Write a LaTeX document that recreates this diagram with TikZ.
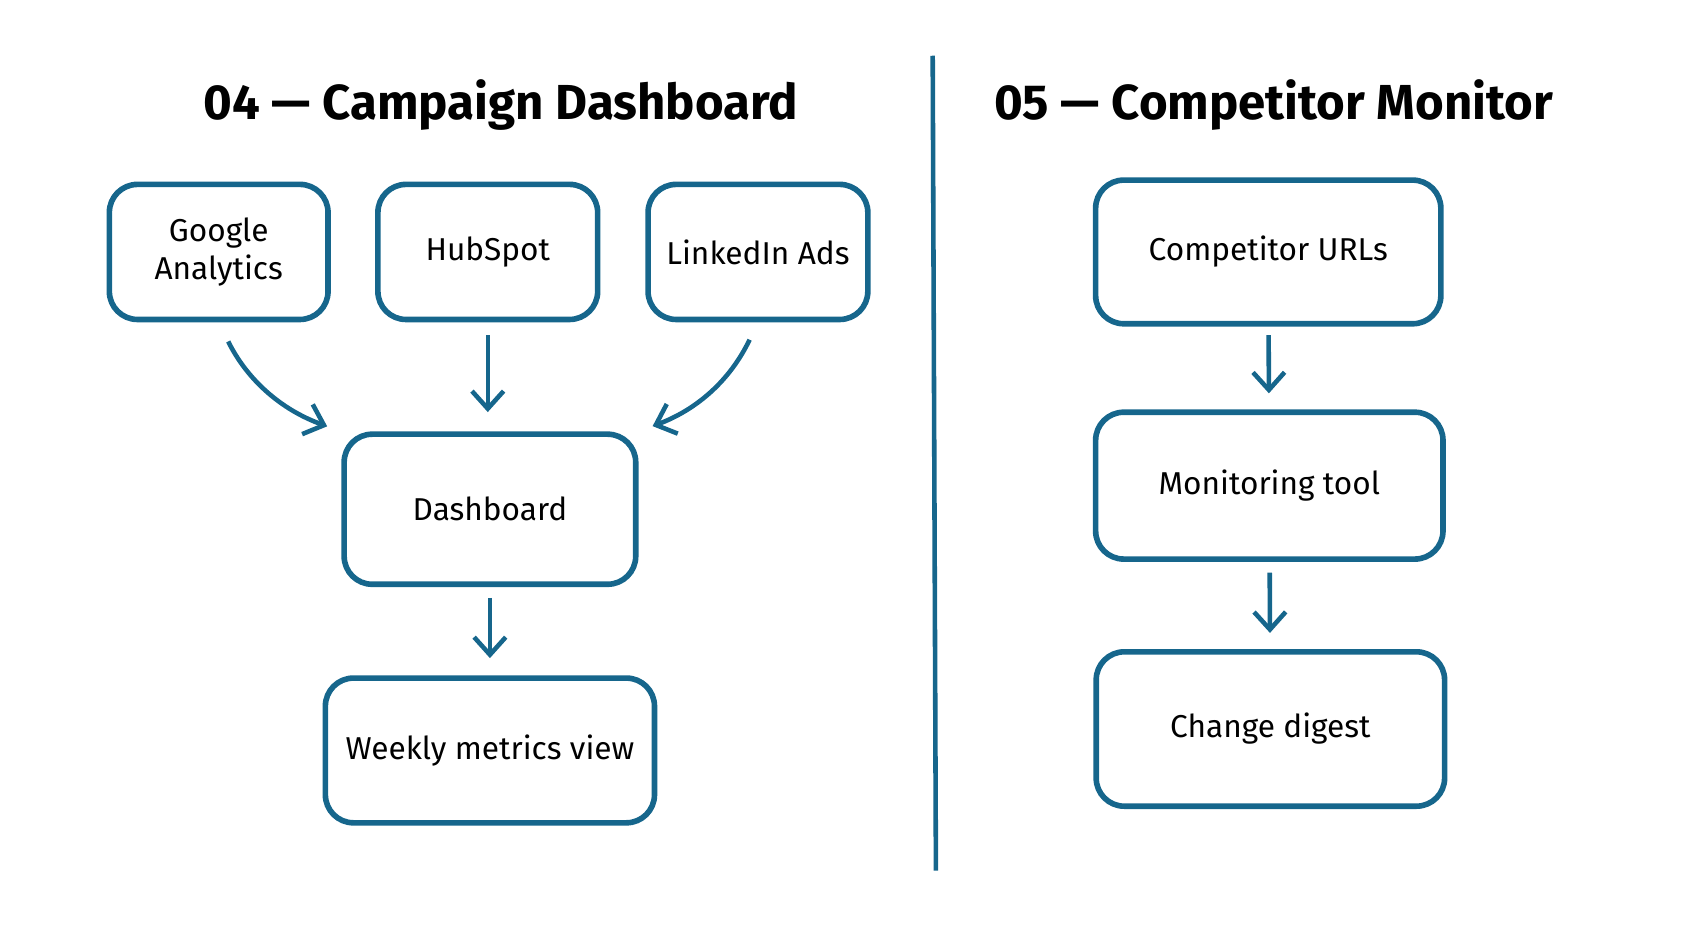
\documentclass[tikz,border=0pt]{standalone}
\usepackage{fontspec}
\setmainfont{Fira Sans}
\usetikzlibrary{positioning,arrows.meta}
\definecolor{ink}{RGB}{22,102,140}
\begin{document}
\begin{tikzpicture}[x=0.01072cm,y=-0.01072cm,
    box/.style={rectangle, draw=ink, line width=1.6pt, rounded corners=8pt, align=center, font=\fontsize{9}{11}\selectfont},
    title/.style={font=\fontsize{14}{16}\selectfont\bfseries},
    arr/.style={draw=ink, line width=1.3pt, -{Straight Barb[length=5pt,width=9pt]}}
]
    \useasboundingbox (0,0) rectangle (1568,873);
    % left panel
    \node[title] (t04) at (467,98) {04 — Campaign Dashboard};
    \node[box, minimum width=204*0.01072cm, minimum height=126*0.01072cm] (ga) at (204,235) {Google\\Analytics};
    \node[box, minimum width=205*0.01072cm, minimum height=126*0.01072cm] (hub) at (455,235) {HubSpot};
    \node[box, minimum width=205*0.01072cm, minimum height=126*0.01072cm] (lin) at (707,235) {LinkedIn Ads};
    \node[box, minimum width=272*0.01072cm, minimum height=140*0.01072cm] (dash) at (457,475) {Dashboard};
    \node[box, minimum width=307*0.01072cm, minimum height=135*0.01072cm] (week) at (457,700) {Weekly metrics view};
    \draw[arr, shorten <=20*0.01072cm, shorten >=14*0.01072cm] (ga.south) to[bend right=22] (dash.north west);
    \draw[arr, shorten <=12*0.01072cm, shorten >=18*0.01072cm] (hub.south) -- (hub.south |- dash.north);
    \draw[arr, shorten <=18*0.01072cm, shorten >=14*0.01072cm] (lin.south) to[bend left=22] (dash.north east);
    \draw[arr, shorten <=10*0.01072cm, shorten >=16*0.01072cm] (dash) -- (week);
    % divider
    \coordinate (dtop) at (870,52);
    \coordinate (dbot) at (873,812);
    \draw[ink, line width=1.3pt] (dtop) -- (dbot);
    % right panel
    \node[title] (t05) at (1188,98) {05 — Competitor Monitor};
    \node[box, minimum width=322*0.01072cm, minimum height=134*0.01072cm] (urls) at (1183,235) {Competitor URLs};
    \node[box, minimum width=324*0.01072cm, minimum height=137*0.01072cm] (mon) at (1184,453) {Monitoring tool};
    \node[box, minimum width=325*0.01072cm, minimum height=144*0.01072cm] (dig) at (1185,680) {Change digest};
    \draw[arr, shorten <=8*0.01072cm, shorten >=15*0.01072cm] (urls) -- (mon);
    \draw[arr, shorten <=10*0.01072cm, shorten >=15*0.01072cm] (mon) -- (dig);
\end{tikzpicture}
\end{document}
